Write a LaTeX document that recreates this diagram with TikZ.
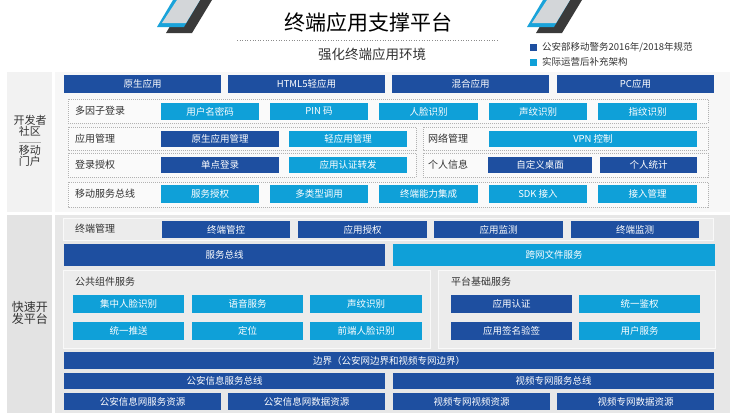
\documentclass[tikz,border=0pt]{standalone}
\usepackage{fontspec}
\setmainfont{Noto Sans CJK SC}
\definecolor{dblue}{HTML}{1E4FA0}
\definecolor{cblue}{HTML}{0FA0D8}
\definecolor{txtg}{HTML}{333333}
\definecolor{topbg}{HTML}{F7F7F7}
\definecolor{topleft}{HTML}{F2F2F2}
\definecolor{botbg}{HTML}{E7E7E7}
\definecolor{botleft}{HTML}{E3E3E3}
\definecolor{panelbg}{HTML}{ECECEC}
\definecolor{logogray}{HTML}{D3D6D9}
\definecolor{logodark}{HTML}{3A3A3A}
\definecolor{logoblue}{HTML}{1AA3DA}
\newcommand\fsz[1]{\fontsize{#1}{#1}\selectfont}
\newcommand\bx[7]{\node[#2, minimum width={(#5-#3)*1pt}, minimum height={(#6-#4)*1pt}] (#1) at ({(#3+#5)/2},{(#4+#6)/2}) {#7};}
\tikzset{
  dk/.style={fill=dblue, text=white, inner sep=0pt, font=\fsz{9.5}},
  cy/.style={fill=cblue, text=white, inner sep=0pt, font=\fsz{9.5}},
  lab/.style={anchor=west, text=txtg, inner sep=0pt, font=\fsz{10}},
  side/.style={text=txtg, inner sep=0pt, align=center, font=\fsz{11}},
  dbox/.style={draw=black!30, dash pattern=on 1pt off 1pt, line width=0.5pt, fill=white!40!topbg},
  panel/.style={fill=panelbg, draw=white!70!panelbg, line width=0.8pt},
}
\begin{document}
\begin{tikzpicture}[x=1pt,y=-1pt]
\useasboundingbox (0,0) rectangle (740,416);
\fill[white] (0,0) rectangle (740,416);
% logos
\foreach \dx in {0,370}{
  \begin{scope}[xshift=\dx]
  \fill[logodark] (166,33) -- (192,33) -- (212,0) -- (186,0) -- cycle;
  \fill[logoblue] (157,27) -- (184,27) -- (200,0) -- (173,0) -- cycle;
  \fill[logogray] (162,23) -- (186,23) -- (200,0) -- (177,0) -- cycle;
  \end{scope}
}
% title
\node[inner sep=0pt, font=\fsz{21}, text=black] (title) at (368,23) {终端应用支撑平台};
\draw[black!45, dotted, line width=0.6pt] (237,40) -- (498,40);
\node[inner sep=0pt, font=\fsz{13.5}, text=txtg] (subtitle) at (372,54) {强化终端应用环境};
% legend
\fill[dblue] (530,44) rectangle (537,51);
\node[lab, font=\fsz{9.5}] (leg1) at (542,47) {公安部移动警务2016年/2018年规范};
\fill[cblue] (530,59) rectangle (537,66);
\node[lab, font=\fsz{9.5}] (leg2) at (542,62) {实际运营后补充架构};
% backgrounds
\fill[topleft] (7,72) rectangle (52,212);
\fill[topbg] (55,72) rectangle (730,212);
\fill[botleft] (7,215) rectangle (52,413);
\fill[botbg] (55,215) rectangle (730,413);
% left labels
\node[side] (devc) at (30,126) {开发者\\社区};
\draw[black!30, line width=0.6pt] (19,142) -- (41,142);
\node[side] (mportal) at (30,156) {移动\\门户};
\node[side, font=\fsz{12}] (fastdev) at (30,313) {快速开\\发平台};
% top row
\bx{a1}{dk}{64}{75}{221}{93}{原生应用}
\bx{a2}{dk}{228}{75}{385}{93}{HTML5轻应用}
\bx{a3}{dk}{392}{75}{549}{93}{混合应用}
\bx{a4}{dk}{557}{75}{714}{93}{PC应用}
% row: multi-factor login
\draw[dbox] (68,99) rectangle (708,123);
\node[lab] (lmf) at (75,111) {多因子登录};
\bx{b1}{cy}{161}{103}{259}{120}{用户名密码}
\bx{b2}{cy}{270}{103}{368}{120}{PIN 码}
\bx{b3}{cy}{379}{103}{478}{120}{人脸识别}
\bx{b4}{cy}{489}{103}{587}{120}{声纹识别}
\bx{b5}{cy}{598}{103}{697}{120}{指纹识别}
% row: app management / network
\draw[dbox] (68,127) rectangle (416,150);
\draw[dbox] (423,127) rectangle (708,150);
\node[lab] (lam) at (75,139) {应用管理};
\node[lab] (lnm) at (428,139) {网络管理};
\bx{c1}{dk}{161}{131}{279}{147}{原生应用管理}
\bx{c2}{cy}{289}{131}{407}{147}{轻应用管理}
\bx{c3}{cy}{489}{131}{697}{147}{VPN 控制}
% row: login auth / personal info
\draw[dbox] (68,153) rectangle (416,177);
\draw[dbox] (423,153) rectangle (708,177);
\node[lab] (lla) at (75,165) {登录授权};
\node[lab] (lpi) at (428,165) {个人信息};
\bx{d1}{dk}{161}{157}{279}{173}{单点登录}
\bx{d2}{cy}{289}{157}{407}{173}{应用认证转发}
\bx{d3}{dk}{488}{157}{592}{173}{自定义桌面}
\bx{d4}{dk}{600}{157}{697}{173}{个人统计}
% row: mobile service bus
\draw[dbox] (68,182) rectangle (708,207);
\node[lab] (lmb) at (75,194) {移动服务总线};
\bx{e1}{cy}{161}{185}{259}{203}{服务授权}
\bx{e2}{cy}{270}{185}{368}{203}{多类型调用}
\bx{e3}{cy}{379}{185}{478}{203}{终端能力集成}
\bx{e4}{cy}{489}{185}{587}{203}{SDK 接入}
\bx{e5}{cy}{598}{185}{697}{203}{接入管理}
% terminal management
\draw[panel] (63,218) rectangle (713,240);
\node[lab] (ltm) at (75,229) {终端管理};
\bx{f1}{dk}{162}{221}{290}{238}{终端管控}
\bx{f2}{dk}{298}{221}{427}{238}{应用授权}
\bx{f3}{dk}{434}{221}{563}{238}{应用监测}
\bx{f4}{dk}{571}{221}{699}{238}{终端监测}
% buses
\bx{g1}{dk}{64}{244}{385}{266}{服务总线}
\bx{g2}{cy}{393}{244}{715}{266}{跨网文件服务}
% panels
\draw[panel] (63,270) rectangle (430,348);
\draw[panel] (438,270) rectangle (715,348);
\node[lab] (lpc) at (75,282) {公共组件服务};
\node[lab] (lpb) at (451,282) {平台基础服务};
\bx{h1}{cy}{73}{295}{184}{313}{集中人脸识别}
\bx{h2}{cy}{192}{295}{303}{313}{语音服务}
\bx{h3}{cy}{310}{295}{422}{313}{声纹识别}
\bx{h4}{cy}{73}{322}{184}{340}{统一推送}
\bx{h5}{cy}{192}{322}{303}{340}{定位}
\bx{h6}{cy}{310}{322}{422}{340}{前端人脸识别}
\bx{i1}{dk}{451}{295}{572}{313}{应用认证}
\bx{i2}{cy}{579}{295}{700}{313}{统一鉴权}
\bx{i3}{dk}{451}{322}{572}{340}{应用签名验签}
\bx{i4}{cy}{579}{322}{700}{340}{用户服务}
% bottom
\bx{j1}{dk}{64}{352}{714}{369}{边界（公安网边界和视频专网边界）}
\bx{k1}{dk}{64}{373}{385}{389}{公安信息服务总线}
\bx{k2}{dk}{393}{373}{714}{389}{视频专网服务总线}
\bx{l1}{dk}{64}{393}{221}{410}{公安信息网服务资源}
\bx{l2}{dk}{228}{393}{385}{410}{公安信息网数据资源}
\bx{l3}{dk}{393}{393}{550}{410}{视频专网视频资源}
\bx{l4}{dk}{557}{393}{714}{410}{视频专网数据资源}
\end{tikzpicture}
\end{document}
